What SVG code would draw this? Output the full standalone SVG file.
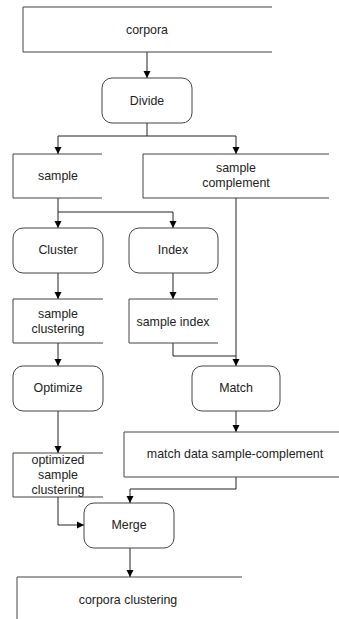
<svg xmlns="http://www.w3.org/2000/svg" width="339" height="619" viewBox="0 0 339 619">
  <style>
    .store { fill: none; stroke: #444; stroke-width: 1; }
    .proc { fill: #fff; stroke: #444; stroke-width: 1; }
    .wire { fill: none; stroke: #222; stroke-width: 1; }
    text { font-family: "Liberation Sans", Arial, sans-serif; font-size: 12.4px; fill: #222; text-anchor: middle; }
  </style>
  <defs>
    <marker id="arrow" viewBox="0 0 10 10" refX="10" refY="5" markerWidth="7" markerHeight="8" markerUnits="userSpaceOnUse" orient="auto">
      <path d="M0,0 L10,5 L0,10 Z" fill="#000"/>
    </marker>
  </defs>
  <rect width="339" height="619" fill="#fff"/>

  <!-- connectors -->
  <g id="connectors">
    <path class="wire" d="M147,52 V78" marker-end="url(#arrow)"/>
    <path class="wire" d="M147,123 V136 H58 V154" marker-end="url(#arrow)"/>
    <path class="wire" d="M147,136 H236 V154" marker-end="url(#arrow)"/>
    <path class="wire" d="M58,198 V228" marker-end="url(#arrow)"/>
    <path class="wire" d="M58,212 H173 V228" marker-end="url(#arrow)"/>
    <path class="wire" d="M58,273 V299" marker-end="url(#arrow)"/>
    <path class="wire" d="M173,273 V299" marker-end="url(#arrow)"/>
    <path class="wire" d="M58,343 V366" marker-end="url(#arrow)"/>
    <path class="wire" d="M236,198 V366" marker-end="url(#arrow)"/>
    <path class="wire" d="M173,343 V356 H236"/>
    <path class="wire" d="M58,411 V453" marker-end="url(#arrow)"/>
    <path class="wire" d="M236,411 V432" marker-end="url(#arrow)"/>
    <path class="wire" d="M236,477 V489 H130 V503" marker-end="url(#arrow)"/>
    <path class="wire" d="M58,497 V525 H84" marker-end="url(#arrow)"/>
    <path class="wire" d="M130,548 V577" marker-end="url(#arrow)"/>
  </g>

  <g id="corpora">
    <path class="store" d="M272,7 H23 V52 H272"/>
    <text x="147" y="34">corpora</text>
  </g>
  <g id="divide">
    <rect class="proc" x="102" y="78" width="90" height="45" rx="10"/>
    <text x="147" y="105">Divide</text>
  </g>
  <g id="sample">
    <path class="store" d="M102,154 H13 V198 H102"/>
    <text x="58" y="180">sample</text>
  </g>
  <g id="sample-complement">
    <path class="store" d="M329,154 H143 V198 H329"/>
    <text x="236" y="172">sample</text>
    <text x="236" y="187">complement</text>
  </g>
  <g id="cluster">
    <rect class="proc" x="13" y="228" width="90" height="45" rx="10"/>
    <text x="58" y="254">Cluster</text>
  </g>
  <g id="index">
    <rect class="proc" x="129" y="228" width="89" height="45" rx="10"/>
    <text x="173" y="254">Index</text>
  </g>
  <g id="sample-clustering">
    <path class="store" d="M103,299 H13 V343 H103"/>
    <text x="58" y="318">sample</text>
    <text x="58" y="333">clustering</text>
  </g>
  <g id="sample-index">
    <path class="store" d="M218,299 H129 V343 H218"/>
    <text x="173" y="326">sample index</text>
  </g>
  <g id="optimize">
    <rect class="proc" x="13" y="366" width="90" height="45" rx="10"/>
    <text x="58" y="392">Optimize</text>
  </g>
  <g id="match">
    <rect class="proc" x="192" y="366" width="88" height="45" rx="10"/>
    <text x="236" y="392">Match</text>
  </g>
  <g id="match-data">
    <path class="store" d="M339,432 H124 V477 H339"/>
    <text x="235" y="458">match data sample-complement</text>
  </g>
  <g id="optimized-sample-clustering">
    <path class="store" d="M103,453 H13 V497 H103"/>
    <text x="58" y="464">optimized</text>
    <text x="58" y="479">sample</text>
    <text x="58" y="494">clustering</text>
  </g>
  <g id="merge">
    <rect class="proc" x="84" y="503" width="90" height="45" rx="10"/>
    <text x="129" y="529">Merge</text>
  </g>
  <g id="corpora-clustering">
    <path class="store" d="M242,577 H17 V619"/>
    <text x="128" y="604">corpora clustering</text>
  </g>
</svg>
